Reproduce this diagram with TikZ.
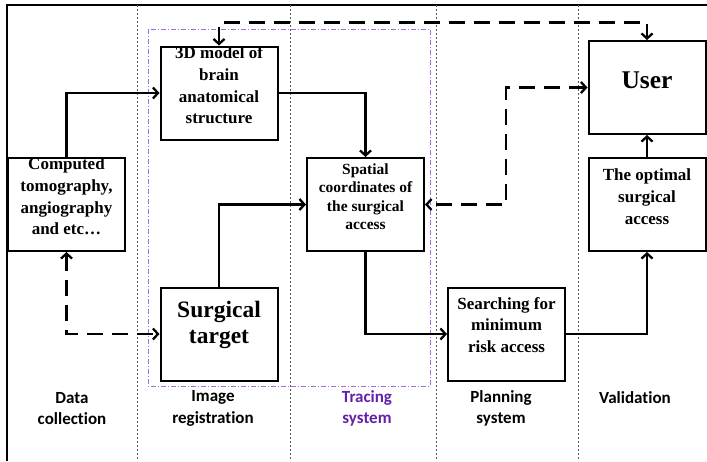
\documentclass[tikz,border=0pt]{standalone}
\usepackage{fontspec}
\usetikzlibrary{arrows.meta}
\newfontfamily\boxfont{Liberation Serif}
\newfontfamily\labfont[Ligatures=NoCommon]{Carlito}
\definecolor{tracep}{HTML}{6420A8}
\definecolor{rectp}{HTML}{A070E0}
\begin{document}
\begin{tikzpicture}[x=1pt,y=-1pt,
  box/.style={draw=black,line width=2pt,minimum width=117pt,minimum height=93pt,inner sep=0pt},
  btext/.style={align=center,font=\boxfont\bfseries\fontsize{17}{21.7}\selectfont,inner sep=0pt},
  lab/.style={align=center,font=\labfont\bfseries\fontsize{17}{21.5}\selectfont,inner sep=0pt},
  arr/.style={line width=2.3pt,-{Straight Barb[length=5pt,width=11pt]}},
  dsh/.style={line width=2.3pt,dash pattern=on 16pt off 9pt,{Straight Barb[length=5pt,width=11pt]}-{Straight Barb[length=5pt,width=11pt]}},
  sep/.style={draw=black!65,line width=0.6pt,dash pattern=on 2pt off 2pt}]
\useasboundingbox (0,0) rectangle (707,461);
% frame
\draw[line width=2pt] (7,461) -- (7,5) -- (707,5);
% separators
\foreach \xx in {137,290,436,578} \draw[sep] (\xx,5) -- (\xx,461);
% tracing system rectangle
\draw[rectp,line width=0.8pt,dash pattern=on 5pt off 2pt on 1pt off 2pt] (148,29) rectangle (430,386);
% boxes
\node[box] (ct) at (66.5,204.5) {};
\node[box] (m3d) at (219,93) {};
\node[box] (sp) at (365.5,204.5) {};
\node[box] (st) at (219,334) {};
\node[box] (sr) at (506.5,334) {};
\node[box] (us) at (647,87.5) {};
\node[box] (op) at (647,204.5) {};
% texts
\node[btext] (ctt) at ([yshift=8pt]ct.center) {Computed\\tomography,\\angiography\\and etc…};
\node[btext] (m3dt) at ([yshift=7.5pt]m3d.center) {3D model of\\brain\\anatomical\\structure};
\node[btext,font=\boxfont\bfseries\fontsize{15.5}{18.4}\selectfont] (spt) at ([yshift=8pt]sp.center) {Spatial\\coordinates of\\the surgical\\access};
\node[btext,font=\boxfont\bfseries\fontsize{23.5}{26.7}\selectfont] (stt) at ([yshift=9pt]st.center) {Surgical\\target};
\node[btext] (srt) at ([yshift=9pt]sr.center) {Searching for\\minimum\\risk access};
\node[btext,font=\boxfont\bfseries\fontsize{25.5}{30}\selectfont] (ust) at ([yshift=7.5pt]us.center) {User};
\node[btext] (opt) at ([yshift=8pt]op.center) {The optimal\\surgical\\access};
% bottom labels
\node[lab] (l1) at (72,408.5) {Data\\collection};
\node[lab] (l2) at (213,408.5) {Image\\registration};
\node[lab,text=tracep] (l3) at (367,408.5) {Tracing\\system};
\node[lab] (l4) at (501,408.5) {Planning\\system};
\node[lab] (l5) at (635,398) {Validation};
% solid connectors
\draw[arr] (ct.north) |- (m3d.west);
\draw[arr] (m3d.east) -| (sp.north);
\draw[arr] (st.north) |- (sp.west);
\draw[arr] (sp.south) |- (sr.west);
\draw[arr] (sr.east) -| (op.south);
\draw[arr] (op.north) -- (us.south);
% dashed connectors
\coordinate (tl) at (219,22.5);
\coordinate (ur) at (506,87.5);
\draw[dsh] (m3d.north) -- (tl) -| (us.north);
\draw[dsh] (us.west) -- (ur) |- (sp.east);
\draw[dsh] (ct.south) |- (st.west);
\end{tikzpicture}
\end{document}
